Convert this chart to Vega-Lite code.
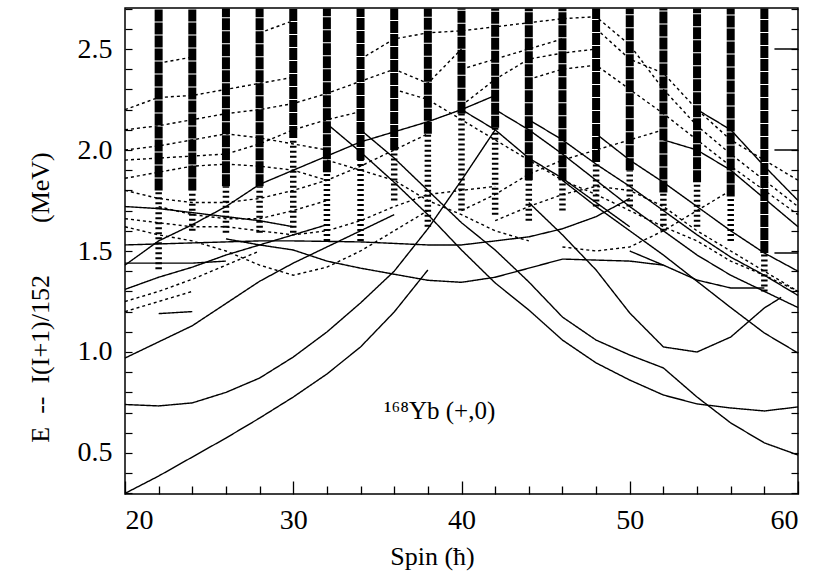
{
"$schema": "https://vega.github.io/schema/vega-lite/v6.json",
"width": 673, "height": 486,
"autosize": "none",
"padding": {"left": 125, "top": 8, "right": 34, "bottom": 82},
"background": "white",
"config": {"view": {"stroke": "black", "strokeWidth": 1.5}, "font": "Liberation Serif",
 "axis": {"domain": false, "grid": false, "tickColor": "black", "labelColor": "black", "titleColor": "black", "labelFont": "Liberation Serif", "titleFont": "Liberation Serif", "labelFontSize": 28, "titleFontSize": 26, "titleFontWeight": "normal"}},
"datasets": {
"cols": [
{"s":22,"lo":1.41,"mid":1.80,"hi":2.7},{"s":24,"lo":1.60,"mid":1.80,"hi":2.7},{"s":26,"lo":1.59,"mid":1.82,"hi":2.7},{"s":28,"lo":1.59,"mid":1.82,"hi":2.7},{"s":30,"lo":1.59,"mid":2.06,"hi":2.7},{"s":32,"lo":1.55,"mid":1.89,"hi":2.7},{"s":34,"lo":1.55,"mid":1.95,"hi":2.7},{"s":36,"lo":1.75,"mid":2.00,"hi":2.7},{"s":38,"lo":1.62,"mid":2.08,"hi":2.7},{"s":40,"lo":1.70,"mid":2.18,"hi":2.7},{"s":42,"lo":1.68,"mid":2.11,"hi":2.7},{"s":44,"lo":1.65,"mid":1.85,"hi":2.7},{"s":46,"lo":1.70,"mid":1.85,"hi":2.7},{"s":48,"lo":1.72,"mid":1.94,"hi":2.7},{"s":50,"lo":1.72,"mid":1.90,"hi":2.7},{"s":52,"lo":1.60,"mid":1.79,"hi":2.7},{"s":54,"lo":1.62,"mid":1.84,"hi":2.7},{"s":56,"lo":1.55,"mid":1.77,"hi":2.7},{"s":58,"lo":1.30,"mid":1.49,"hi":2.7}
],
"lines": [
{"id":"A","k":"s","s":20,"e":0.30},{"id":"A","k":"s","s":22,"e":0.386},{"id":"A","k":"s","s":24,"e":0.48},{"id":"A","k":"s","s":26,"e":0.574},{"id":"A","k":"s","s":28,"e":0.673},{"id":"A","k":"s","s":30,"e":0.777},{"id":"A","k":"s","s":32,"e":0.891},{"id":"A","k":"s","s":34,"e":1.025},{"id":"A","k":"s","s":36,"e":1.198},{"id":"A","k":"s","s":38,"e":1.406},
{"id":"B","k":"s","s":20,"e":0.74},{"id":"B","k":"s","s":22,"e":0.733},{"id":"B","k":"s","s":24,"e":0.748},{"id":"B","k":"s","s":26,"e":0.80},{"id":"B","k":"s","s":28,"e":0.871},{"id":"B","k":"s","s":30,"e":0.975},{"id":"B","k":"s","s":32,"e":1.099},{"id":"B","k":"s","s":34,"e":1.243},{"id":"B","k":"s","s":36,"e":1.40},{"id":"B","k":"s","s":38,"e":1.61},{"id":"B","k":"s","s":40,"e":1.85},{"id":"B","k":"s","s":42,"e":2.10},
{"id":"C","k":"s","s":20,"e":0.97},{"id":"C","k":"s","s":22,"e":1.05},{"id":"C","k":"s","s":24,"e":1.13},{"id":"C","k":"s","s":26,"e":1.24},{"id":"C","k":"s","s":28,"e":1.35},{"id":"C","k":"s","s":30,"e":1.44},{"id":"C","k":"s","s":32,"e":1.52},{"id":"C","k":"s","s":34,"e":1.60},{"id":"C","k":"s","s":36,"e":1.68},
{"id":"D1","k":"s","s":32,"e":2.13},{"id":"D1","k":"s","s":34,"e":1.99},{"id":"D1","k":"s","s":36,"e":1.84},{"id":"D1","k":"s","s":38,"e":1.68},{"id":"D1","k":"s","s":40,"e":1.505},{"id":"D1","k":"s","s":42,"e":1.342},{"id":"D1","k":"s","s":44,"e":1.208},{"id":"D1","k":"s","s":46,"e":1.059},{"id":"D1","k":"s","s":48,"e":0.946},{"id":"D1","k":"s","s":50,"e":0.861},{"id":"D1","k":"s","s":52,"e":0.787},{"id":"D1","k":"s","s":54,"e":0.743},{"id":"D1","k":"s","s":56,"e":0.723},{"id":"D1","k":"s","s":58,"e":0.708},{"id":"D1","k":"s","s":60,"e":0.728},
{"id":"D2","k":"s","s":34,"e":2.10},{"id":"D2","k":"s","s":36,"e":1.96},{"id":"D2","k":"s","s":38,"e":1.80},{"id":"D2","k":"s","s":40,"e":1.64},{"id":"D2","k":"s","s":42,"e":1.505},{"id":"D2","k":"s","s":44,"e":1.347},{"id":"D2","k":"s","s":46,"e":1.173},{"id":"D2","k":"s","s":48,"e":1.059},{"id":"D2","k":"s","s":50,"e":0.985},{"id":"D2","k":"s","s":52,"e":0.921},{"id":"D2","k":"s","s":54,"e":0.777},{"id":"D2","k":"s","s":56,"e":0.649},{"id":"D2","k":"s","s":58,"e":0.55},{"id":"D2","k":"s","s":60,"e":0.49},
{"id":"D3","k":"s","s":44,"e":1.74},{"id":"D3","k":"s","s":46,"e":1.58},{"id":"D3","k":"s","s":48,"e":1.406},{"id":"D3","k":"s","s":50,"e":1.193},{"id":"D3","k":"s","s":52,"e":1.025},{"id":"D3","k":"s","s":54,"e":1.0},{"id":"D3","k":"s","s":56,"e":1.074},{"id":"D3","k":"s","s":58,"e":1.218},{"id":"D3","k":"s","s":59,"e":1.27},
{"id":"D4","k":"s","s":46,"e":1.85},{"id":"D4","k":"s","s":48,"e":1.72},{"id":"D4","k":"s","s":50,"e":1.60},{"id":"D4","k":"s","s":52,"e":1.48},{"id":"D4","k":"s","s":54,"e":1.35},{"id":"D4","k":"s","s":56,"e":1.22},{"id":"D4","k":"s","s":58,"e":1.094},{"id":"D4","k":"s","s":60,"e":0.995},
{"id":"U","k":"s","s":26,"e":1.56},{"id":"U","k":"s","s":28,"e":1.53},{"id":"U","k":"s","s":30,"e":1.505},{"id":"U","k":"s","s":32,"e":1.45},{"id":"U","k":"s","s":34,"e":1.415},{"id":"U","k":"s","s":36,"e":1.385},{"id":"U","k":"s","s":38,"e":1.355},{"id":"U","k":"s","s":40,"e":1.345},{"id":"U","k":"s","s":42,"e":1.37},{"id":"U","k":"s","s":44,"e":1.415},{"id":"U","k":"s","s":46,"e":1.46},{"id":"U","k":"s","s":48,"e":1.455},{"id":"U","k":"s","s":50,"e":1.45},{"id":"U","k":"s","s":52,"e":1.43},
{"id":"F","k":"s","s":20,"e":1.53},{"id":"F","k":"s","s":24,"e":1.54},{"id":"F","k":"s","s":28,"e":1.55},{"id":"F","k":"s","s":30,"e":1.55},{"id":"F","k":"s","s":34,"e":1.545},{"id":"F","k":"s","s":38,"e":1.53},{"id":"F","k":"s","s":40,"e":1.53},{"id":"F","k":"s","s":42,"e":1.55},{"id":"F","k":"s","s":44,"e":1.57},{"id":"F","k":"s","s":46,"e":1.61},{"id":"F","k":"s","s":48,"e":1.67},{"id":"F","k":"s","s":50,"e":1.76},
{"id":"U1","k":"s","s":20,"e":1.43},{"id":"U1","k":"s","s":22,"e":1.55},{"id":"U1","k":"s","s":24,"e":1.63},{"id":"U1","k":"s","s":26,"e":1.72},{"id":"U1","k":"s","s":28,"e":1.83},{"id":"U1","k":"s","s":30,"e":1.90},{"id":"U1","k":"s","s":32,"e":1.97},{"id":"U1","k":"s","s":34,"e":2.04},{"id":"U1","k":"s","s":36,"e":2.09},{"id":"U1","k":"s","s":38,"e":2.14},{"id":"U1","k":"s","s":40,"e":2.20},{"id":"U1","k":"s","s":42,"e":2.27},
{"id":"U2","k":"s","s":20,"e":1.31},{"id":"U2","k":"s","s":22,"e":1.37},{"id":"U2","k":"s","s":24,"e":1.42},{"id":"U2","k":"s","s":26,"e":1.48},{"id":"U2","k":"s","s":28,"e":1.53},{"id":"U2","k":"s","s":30,"e":1.58},{"id":"U2","k":"s","s":32,"e":1.63},
{"id":"H1","k":"s","s":20,"e":1.44},{"id":"H1","k":"s","s":22,"e":1.44},{"id":"H1","k":"s","s":24,"e":1.44},{"id":"H1","k":"s","s":26,"e":1.45},
{"id":"La","k":"s","s":20,"e":1.72},{"id":"La","k":"s","s":22,"e":1.71},{"id":"La","k":"s","s":24,"e":1.69},{"id":"La","k":"s","s":26,"e":1.67},{"id":"La","k":"s","s":28,"e":1.65},{"id":"La","k":"s","s":30,"e":1.62},
{"id":"Lb","k":"s","s":22,"e":1.19},{"id":"Lb","k":"s","s":24,"e":1.20},
{"id":"D4b","k":"s","s":50,"e":1.50},{"id":"D4b","k":"s","s":52,"e":1.43},{"id":"D4b","k":"s","s":54,"e":1.356},{"id":"D4b","k":"s","s":56,"e":1.317},{"id":"D4b","k":"s","s":58,"e":1.317},
{"id":"R1","k":"s","s":42,"e":2.20},{"id":"R1","k":"s","s":44,"e":2.10},{"id":"R1","k":"s","s":46,"e":1.98},{"id":"R1","k":"s","s":48,"e":1.85},{"id":"R1","k":"s","s":50,"e":1.72},{"id":"R1","k":"s","s":52,"e":1.60},{"id":"R1","k":"s","s":54,"e":1.48},{"id":"R1","k":"s","s":56,"e":1.38},{"id":"R1","k":"s","s":58,"e":1.30},{"id":"R1","k":"s","s":60,"e":1.22},
{"id":"R2","k":"s","s":44,"e":2.15},{"id":"R2","k":"s","s":46,"e":2.05},{"id":"R2","k":"s","s":48,"e":1.93},{"id":"R2","k":"s","s":50,"e":1.82},{"id":"R2","k":"s","s":52,"e":1.70},{"id":"R2","k":"s","s":54,"e":1.58},{"id":"R2","k":"s","s":56,"e":1.47},{"id":"R2","k":"s","s":58,"e":1.38},{"id":"R2","k":"s","s":60,"e":1.28},
{"id":"R4","k":"s","s":48,"e":2.08},{"id":"R4","k":"s","s":50,"e":1.95},{"id":"R4","k":"s","s":52,"e":1.84},{"id":"R4","k":"s","s":54,"e":1.72},{"id":"R4","k":"s","s":56,"e":1.60},{"id":"R4","k":"s","s":58,"e":1.49},{"id":"R4","k":"s","s":60,"e":1.40},
{"id":"R5","k":"s","s":54,"e":2.20},{"id":"R5","k":"s","s":56,"e":2.10},{"id":"R5","k":"s","s":58,"e":1.92},{"id":"R5","k":"s","s":60,"e":1.75},
{"id":"R6","k":"s","s":52,"e":2.05},{"id":"R6","k":"s","s":54,"e":2.00},{"id":"R6","k":"s","s":56,"e":1.90},{"id":"R6","k":"s","s":58,"e":1.76},{"id":"R6","k":"s","s":60,"e":1.62},
{"id":"S1","k":"s","s":58.6,"e":2.50},{"id":"S1","k":"s","s":60,"e":2.50},
{"id":"S2","k":"s","s":58.6,"e":2.00},{"id":"S2","k":"s","s":60,"e":2.00},
{"id":"S3","k":"s","s":58.6,"e":1.49},{"id":"S3","k":"s","s":60,"e":1.49},
{"id":"M2","k":"s","s":40,"e":2.20},{"id":"M2","k":"s","s":42,"e":2.10},{"id":"M2","k":"s","s":44,"e":1.96},{"id":"M2","k":"s","s":46,"e":1.86},{"id":"M2","k":"s","s":48,"e":1.74},{"id":"M2","k":"s","s":50,"e":1.62},
{"id":"d1","k":"d","s":20,"e":2.20},{"id":"d1","k":"d","s":22,"e":2.26},{"id":"d1","k":"d","s":24,"e":2.27},{"id":"d1","k":"d","s":26,"e":2.30},{"id":"d1","k":"d","s":28,"e":2.33},{"id":"d1","k":"d","s":30,"e":2.36},
{"id":"d2","k":"d","s":22,"e":2.43},{"id":"d2","k":"d","s":24,"e":2.46},
{"id":"d3","k":"d","s":20,"e":2.10},{"id":"d3","k":"d","s":22,"e":2.12},{"id":"d3","k":"d","s":24,"e":2.15},{"id":"d3","k":"d","s":26,"e":2.18},{"id":"d3","k":"d","s":28,"e":2.20},{"id":"d3","k":"d","s":30,"e":2.23},{"id":"d3","k":"d","s":32,"e":2.28},{"id":"d3","k":"d","s":34,"e":2.34},{"id":"d3","k":"d","s":36,"e":2.40},{"id":"d3","k":"d","s":38,"e":2.33},{"id":"d3","k":"d","s":40,"e":2.50},
{"id":"d4","k":"d","s":28,"e":2.58},{"id":"d4","k":"d","s":30,"e":2.64},
{"id":"d5","k":"d","s":34,"e":2.45},{"id":"d5","k":"d","s":36,"e":2.55},{"id":"d5","k":"d","s":38,"e":2.58},{"id":"d5","k":"d","s":40,"e":2.59},{"id":"d5","k":"d","s":42,"e":2.61},{"id":"d5","k":"d","s":44,"e":2.63},{"id":"d5","k":"d","s":46,"e":2.65},{"id":"d5","k":"d","s":48,"e":2.66},{"id":"d5","k":"d","s":50,"e":2.52},{"id":"d5","k":"d","s":52,"e":2.30},{"id":"d5","k":"d","s":54,"e":2.12},{"id":"d5","k":"d","s":56,"e":1.98},{"id":"d5","k":"d","s":58,"e":1.85},{"id":"d5","k":"d","s":60,"e":1.72},
{"id":"d5b","k":"d","s":48,"e":2.60},{"id":"d5b","k":"d","s":50,"e":2.45},{"id":"d5b","k":"d","s":52,"e":2.38},{"id":"d5b","k":"d","s":54,"e":2.20},{"id":"d5b","k":"d","s":56,"e":2.05},{"id":"d5b","k":"d","s":58,"e":1.95},{"id":"d5b","k":"d","s":60,"e":1.85},
{"id":"d6","k":"d","s":40,"e":2.22},{"id":"d6","k":"d","s":42,"e":2.35},{"id":"d6","k":"d","s":44,"e":2.45},{"id":"d6","k":"d","s":46,"e":2.48},{"id":"d6","k":"d","s":48,"e":2.50},
{"id":"d7","k":"d","s":20,"e":2.00},{"id":"d7","k":"d","s":22,"e":2.02},{"id":"d7","k":"d","s":24,"e":2.05},{"id":"d7","k":"d","s":26,"e":2.08},{"id":"d7","k":"d","s":28,"e":2.06},{"id":"d7","k":"d","s":30,"e":2.03},{"id":"d7","k":"d","s":32,"e":2.00},
{"id":"d8","k":"d","s":20,"e":1.95},{"id":"d8","k":"d","s":22,"e":1.96},{"id":"d8","k":"d","s":24,"e":1.97},{"id":"d8","k":"d","s":26,"e":1.98},{"id":"d8","k":"d","s":28,"e":2.03},{"id":"d8","k":"d","s":30,"e":2.10},{"id":"d8","k":"d","s":32,"e":2.15},{"id":"d8","k":"d","s":34,"e":2.19},
{"id":"d9","k":"d","s":20,"e":1.86},{"id":"d9","k":"d","s":22,"e":1.89},{"id":"d9","k":"d","s":24,"e":1.92},{"id":"d9","k":"d","s":26,"e":1.93},{"id":"d9","k":"d","s":28,"e":1.92},{"id":"d9","k":"d","s":30,"e":1.90},{"id":"d9","k":"d","s":32,"e":1.85},
{"id":"d10","k":"d","s":20,"e":1.80},{"id":"d10","k":"d","s":22,"e":1.76},{"id":"d10","k":"d","s":24,"e":1.74},{"id":"d10","k":"d","s":26,"e":1.74},{"id":"d10","k":"d","s":28,"e":1.76},{"id":"d10","k":"d","s":30,"e":1.80},{"id":"d10","k":"d","s":32,"e":1.85},{"id":"d10","k":"d","s":34,"e":1.92},{"id":"d10","k":"d","s":36,"e":2.00},{"id":"d10","k":"d","s":38,"e":2.08},
{"id":"d11","k":"d","s":22,"e":1.72},{"id":"d11","k":"d","s":24,"e":1.68},{"id":"d11","k":"d","s":26,"e":1.66},{"id":"d11","k":"d","s":28,"e":1.66},{"id":"d11","k":"d","s":30,"e":1.70},{"id":"d11","k":"d","s":32,"e":1.75},
{"id":"d12","k":"d","s":20,"e":1.66},{"id":"d12","k":"d","s":22,"e":1.64},{"id":"d12","k":"d","s":24,"e":1.62},{"id":"d12","k":"d","s":26,"e":1.62},{"id":"d12","k":"d","s":28,"e":1.60},{"id":"d12","k":"d","s":30,"e":1.58},{"id":"d12","k":"d","s":32,"e":1.60},{"id":"d12","k":"d","s":34,"e":1.65},{"id":"d12","k":"d","s":36,"e":1.72},{"id":"d12","k":"d","s":38,"e":1.78},{"id":"d12","k":"d","s":40,"e":1.80},{"id":"d12","k":"d","s":42,"e":1.82},
{"id":"d13","k":"d","s":20,"e":1.62},{"id":"d13","k":"d","s":22,"e":1.58},{"id":"d13","k":"d","s":24,"e":1.55},{"id":"d13","k":"d","s":26,"e":1.50},{"id":"d13","k":"d","s":28,"e":1.43},{"id":"d13","k":"d","s":30,"e":1.38},{"id":"d13","k":"d","s":32,"e":1.42},{"id":"d13","k":"d","s":34,"e":1.50},{"id":"d13","k":"d","s":36,"e":1.60},{"id":"d13","k":"d","s":38,"e":1.70},
{"id":"d14","k":"d","s":20,"e":1.25},{"id":"d14","k":"d","s":22,"e":1.30},{"id":"d14","k":"d","s":24,"e":1.36},{"id":"d14","k":"d","s":26,"e":1.43},{"id":"d14","k":"d","s":28,"e":1.50},
{"id":"d15","k":"d","s":20,"e":1.20},{"id":"d15","k":"d","s":22,"e":1.25},{"id":"d15","k":"d","s":24,"e":1.30},
{"id":"d16","k":"d","s":40,"e":1.70},{"id":"d16","k":"d","s":42,"e":1.78},{"id":"d16","k":"d","s":44,"e":1.88},{"id":"d16","k":"d","s":46,"e":1.95},{"id":"d16","k":"d","s":48,"e":2.00},{"id":"d16","k":"d","s":50,"e":2.05},{"id":"d16","k":"d","s":52,"e":2.10},
{"id":"d17","k":"d","s":42,"e":1.65},{"id":"d17","k":"d","s":44,"e":1.72},{"id":"d17","k":"d","s":46,"e":1.78},{"id":"d17","k":"d","s":48,"e":1.82},{"id":"d17","k":"d","s":50,"e":1.80},{"id":"d17","k":"d","s":52,"e":1.72},{"id":"d17","k":"d","s":54,"e":1.60},{"id":"d17","k":"d","s":56,"e":1.50},{"id":"d17","k":"d","s":58,"e":1.40},{"id":"d17","k":"d","s":60,"e":1.30},
{"id":"d18","k":"d","s":44,"e":2.35},{"id":"d18","k":"d","s":46,"e":2.40},{"id":"d18","k":"d","s":48,"e":2.42},{"id":"d18","k":"d","s":50,"e":2.30},{"id":"d18","k":"d","s":52,"e":2.18},{"id":"d18","k":"d","s":54,"e":2.05},{"id":"d18","k":"d","s":56,"e":1.92},{"id":"d18","k":"d","s":58,"e":1.80},{"id":"d18","k":"d","s":60,"e":1.68},
{"id":"d19","k":"d","s":36,"e":2.30},{"id":"d19","k":"d","s":38,"e":2.25},{"id":"d19","k":"d","s":40,"e":2.15},{"id":"d19","k":"d","s":42,"e":2.05},{"id":"d19","k":"d","s":44,"e":1.95},{"id":"d19","k":"d","s":46,"e":1.85},{"id":"d19","k":"d","s":48,"e":1.78},{"id":"d19","k":"d","s":50,"e":1.70},{"id":"d19","k":"d","s":52,"e":1.62},{"id":"d19","k":"d","s":54,"e":1.55},{"id":"d19","k":"d","s":56,"e":1.45},{"id":"d19","k":"d","s":58,"e":1.38},{"id":"d19","k":"d","s":60,"e":1.30},
{"id":"d20","k":"d","s":46,"e":1.52},{"id":"d20","k":"d","s":48,"e":1.50},{"id":"d20","k":"d","s":50,"e":1.52},{"id":"d20","k":"d","s":52,"e":1.60},{"id":"d20","k":"d","s":54,"e":1.70},{"id":"d20","k":"d","s":56,"e":1.80},
{"id":"d21","k":"d","s":32,"e":1.95},{"id":"d21","k":"d","s":34,"e":1.90},{"id":"d21","k":"d","s":36,"e":1.85},{"id":"d21","k":"d","s":38,"e":1.75},{"id":"d21","k":"d","s":40,"e":1.68},{"id":"d21","k":"d","s":42,"e":1.60},{"id":"d21","k":"d","s":44,"e":1.55},
{"id":"d22","k":"d","s":40,"e":2.40},{"id":"d22","k":"d","s":42,"e":2.45},{"id":"d22","k":"d","s":44,"e":2.50},{"id":"d22","k":"d","s":46,"e":2.55}
],
"label": [{"s": 38.7, "e": 0.71, "t": "¹⁶⁸Yb (+,0)"}]
},
"encoding": {
 "x": {"field": "s", "type": "quantitative",
  "scale": {"domain": [20, 60], "nice": false, "zero": false},
  "axis": {"title": "Spin (ħ)", "values": [20,22,24,26,28,30,32,34,36,38,40,42,44,46,48,50,52,54,56,58,60],
   "labelExpr": "datum.value % 10 === 0 ? datum.label : ''",
   "tickSize": {"condition": {"test": "datum.value % 10 === 0", "value": -13}, "value": -8},
   "tickWidth": 1.3, "labelPadding": 25, "titleX": 307, "titleY": 62, "titleBaseline": "middle"}}
},
"layer": [
 {"data": {"name": "cols"}, "mark": {"type": "rule", "color": "black", "strokeWidth": 6.5, "strokeDash": [2, 3]},
  "encoding": {"y": {"field": "lo", "type": "quantitative", "scale": {"domain": [0.297, 2.703], "nice": false, "zero": false}, "axis": null}, "y2": {"field": "mid"}}},
 {"data": {"name": "cols"}, "mark": {"type": "rule", "color": "black", "strokeWidth": 8, "strokeDash": [12, 1]},
  "encoding": {"y": {"field": "mid", "type": "quantitative", "scale": {"domain": [0.297, 2.703], "nice": false, "zero": false}, "axis": null}, "y2": {"field": "hi"}}},
 {"data": {"name": "lines"}, "mark": {"type": "line", "color": "black", "strokeWidth": 1.4},
  "encoding": {
   "y": {"field": "e", "type": "quantitative", "scale": {"domain": [0.297, 2.703], "nice": false, "zero": false},
    "axis": {"orient": "left", "title": "E\u2002--\u2002I(I+1)/152\u2003\u2003(MeV)", "values": [0.3,0.4,0.5,0.6,0.7,0.8,0.9,1.0,1.1,1.2,1.3,1.4,1.5,1.6,1.7,1.8,1.9,2.0,2.1,2.2,2.3,2.4,2.5,2.6,2.7],
     "labelExpr": "abs(datum.value*2 - round(datum.value*2)) < 0.001 ? format(datum.value, '.1f') : ''",
     "tickSize": -7, "tickWidth": 1.2, "labelPadding": 20, "titleX": -85, "titleY": 289, "titleBaseline": "middle"}},
   "detail": {"field": "id"},
   "strokeDash": {"field": "k", "type": "nominal", "scale": {"domain": ["s", "d"], "range": [[1, 0], [3, 3]]}, "legend": null}}},
 {"data": {"name": "label"}, "mark": {"type": "text", "font": "Liberation Serif", "fontSize": 25, "color": "black"},
  "encoding": {"y": {"field": "e", "type": "quantitative", "scale": {"domain": [0.297, 2.703], "nice": false, "zero": false},
    "axis": {"orient": "right", "title": null, "labels": false, "values": [0.3,0.4,0.5,0.6,0.7,0.8,0.9,1.0,1.1,1.2,1.3,1.4,1.5,1.6,1.7,1.8,1.9,2.0,2.1,2.2,2.3,2.4,2.5,2.6,2.7], "tickSize": -7, "tickWidth": 1.2}},
   "text": {"field": "t"}}}
],
"resolve": {"axis": {"y": "independent"}}
}
